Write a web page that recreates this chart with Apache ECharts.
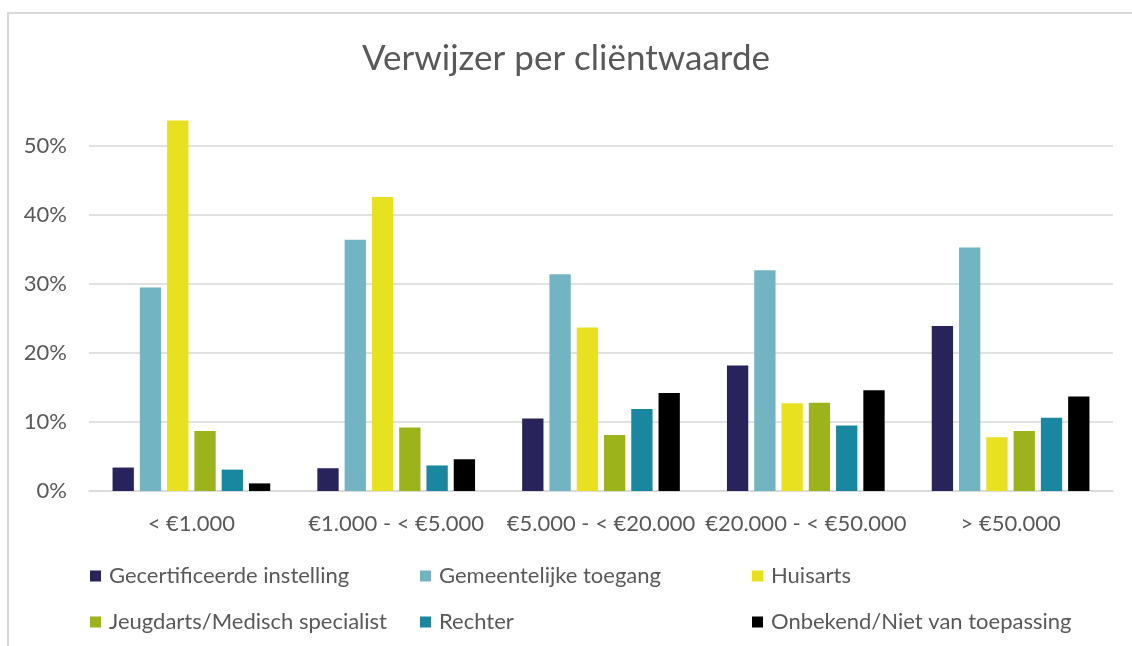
<!DOCTYPE html>
<html>
<head>
<meta charset="utf-8">
<script src="https://cdn.jsdelivr.net/npm/echarts@6/dist/echarts.min.js"></script>
<style>
  html, body { margin: 0; padding: 0; background: #fff; }
  #chart { width: 1132px; height: 646px; }
</style>
</head>
<body>
<div id="chart"></div>
<script>
// categories and series (percentages)
var categories = ['< €1.000', '€1.000 - < €5.000', '€5.000 - < €20.000', '€20.000 - < €50.000', '> €50.000'];
var seriesNames = ['Gecertificeerde instelling', 'Gemeentelijke toegang', 'Huisarts',
    'Jeugdarts/Medisch specialist', 'Rechter', 'Onbekend/Niet van toepassing'];
var gecertificeerd = [3.4, 3.3, 10.5, 18.2, 23.9];
var gemeentelijk = [29.5, 36.4, 31.4, 32.0, 35.3];
var huisarts = [53.7, 42.6, 23.7, 12.7, 7.8];
var jeugdarts = [8.7, 9.2, 8.1, 12.8, 8.7];
var rechter = [3.1, 3.7, 11.9, 9.5, 10.6];
var onbekend = [1.1, 4.6, 14.2, 14.6, 13.7];
var yTicks = [0, 10, 20, 30, 40, 50];

var seriesData = [gecertificeerd, gemeentelijk, huisarts, jeugdarts, rechter, onbekend];
var colors = ['#28235a', '#73b4c3', '#e8e121', '#9db31c', '#1a87a1', '#000000'];
var fontFam = 'Lato';
var textColor = '#595959';

var chart = echarts.init(document.getElementById('chart'));

// one legend per item so it can sit in the same 3-column layout
var legendPos = [[90, 565], [420, 565], [752, 565], [90, 611], [420, 611], [752, 611]];
var legends = seriesNames.map(function (name, i) {
    return {
        data: [name],
        left: legendPos[i][0],
        top: legendPos[i][1],
        itemWidth: 11,
        itemHeight: 11,
        itemGap: 0,
        icon: 'rect',
        textStyle: { fontFamily: fontFam, fontSize: 22, color: textColor, padding: [0, 0, 0, 3] },
        padding: 0,
        selectedMode: false
    };
});

var option = {
    animation: false,
    color: colors,
    title: {
        text: 'Verwijzer per cliëntwaarde',
        left: 'center',
        top: 36,
        textStyle: { fontFamily: fontFam, fontSize: 35, fontWeight: 'normal', color: textColor }
    },
    graphic: [{
        type: 'polyline',
        shape: { points: [[8, 646], [8, 13], [1132, 13]] },
        style: { stroke: '#d9d9d9', lineWidth: 2, fill: null }
    }],
    legend: legends,
    grid: { left: 89, right: 19, top: 146, bottom: 155 },
    xAxis: {
        type: 'category',
        data: categories,
        axisLine: { lineStyle: { color: '#d9d9d9', width: 1.5 } },
        axisTick: { show: false },
        axisLabel: { interval: 0, fontFamily: fontFam, fontSize: 22, color: textColor, margin: 22 }
    },
    yAxis: {
        type: 'value',
        min: yTicks[0],
        max: yTicks[yTicks.length - 1],
        interval: 10,
        axisLine: { show: false },
        axisTick: { show: false },
        splitLine: { lineStyle: { color: '#d9d9d9', width: 1.5 } },
        axisLabel: { fontFamily: fontFam, fontSize: 22, color: textColor, margin: 22, formatter: '{value}%' }
    },
    series: seriesNames.map(function (name, i) {
        return {
            name: name,
            type: 'bar',
            data: seriesData[i],
            clip: false,
            barGap: '28%',
            barCategoryGap: '23%',
            itemStyle: { color: colors[i] }
        };
    })
};
chart.setOption(option);
</script>
</body>
</html>
